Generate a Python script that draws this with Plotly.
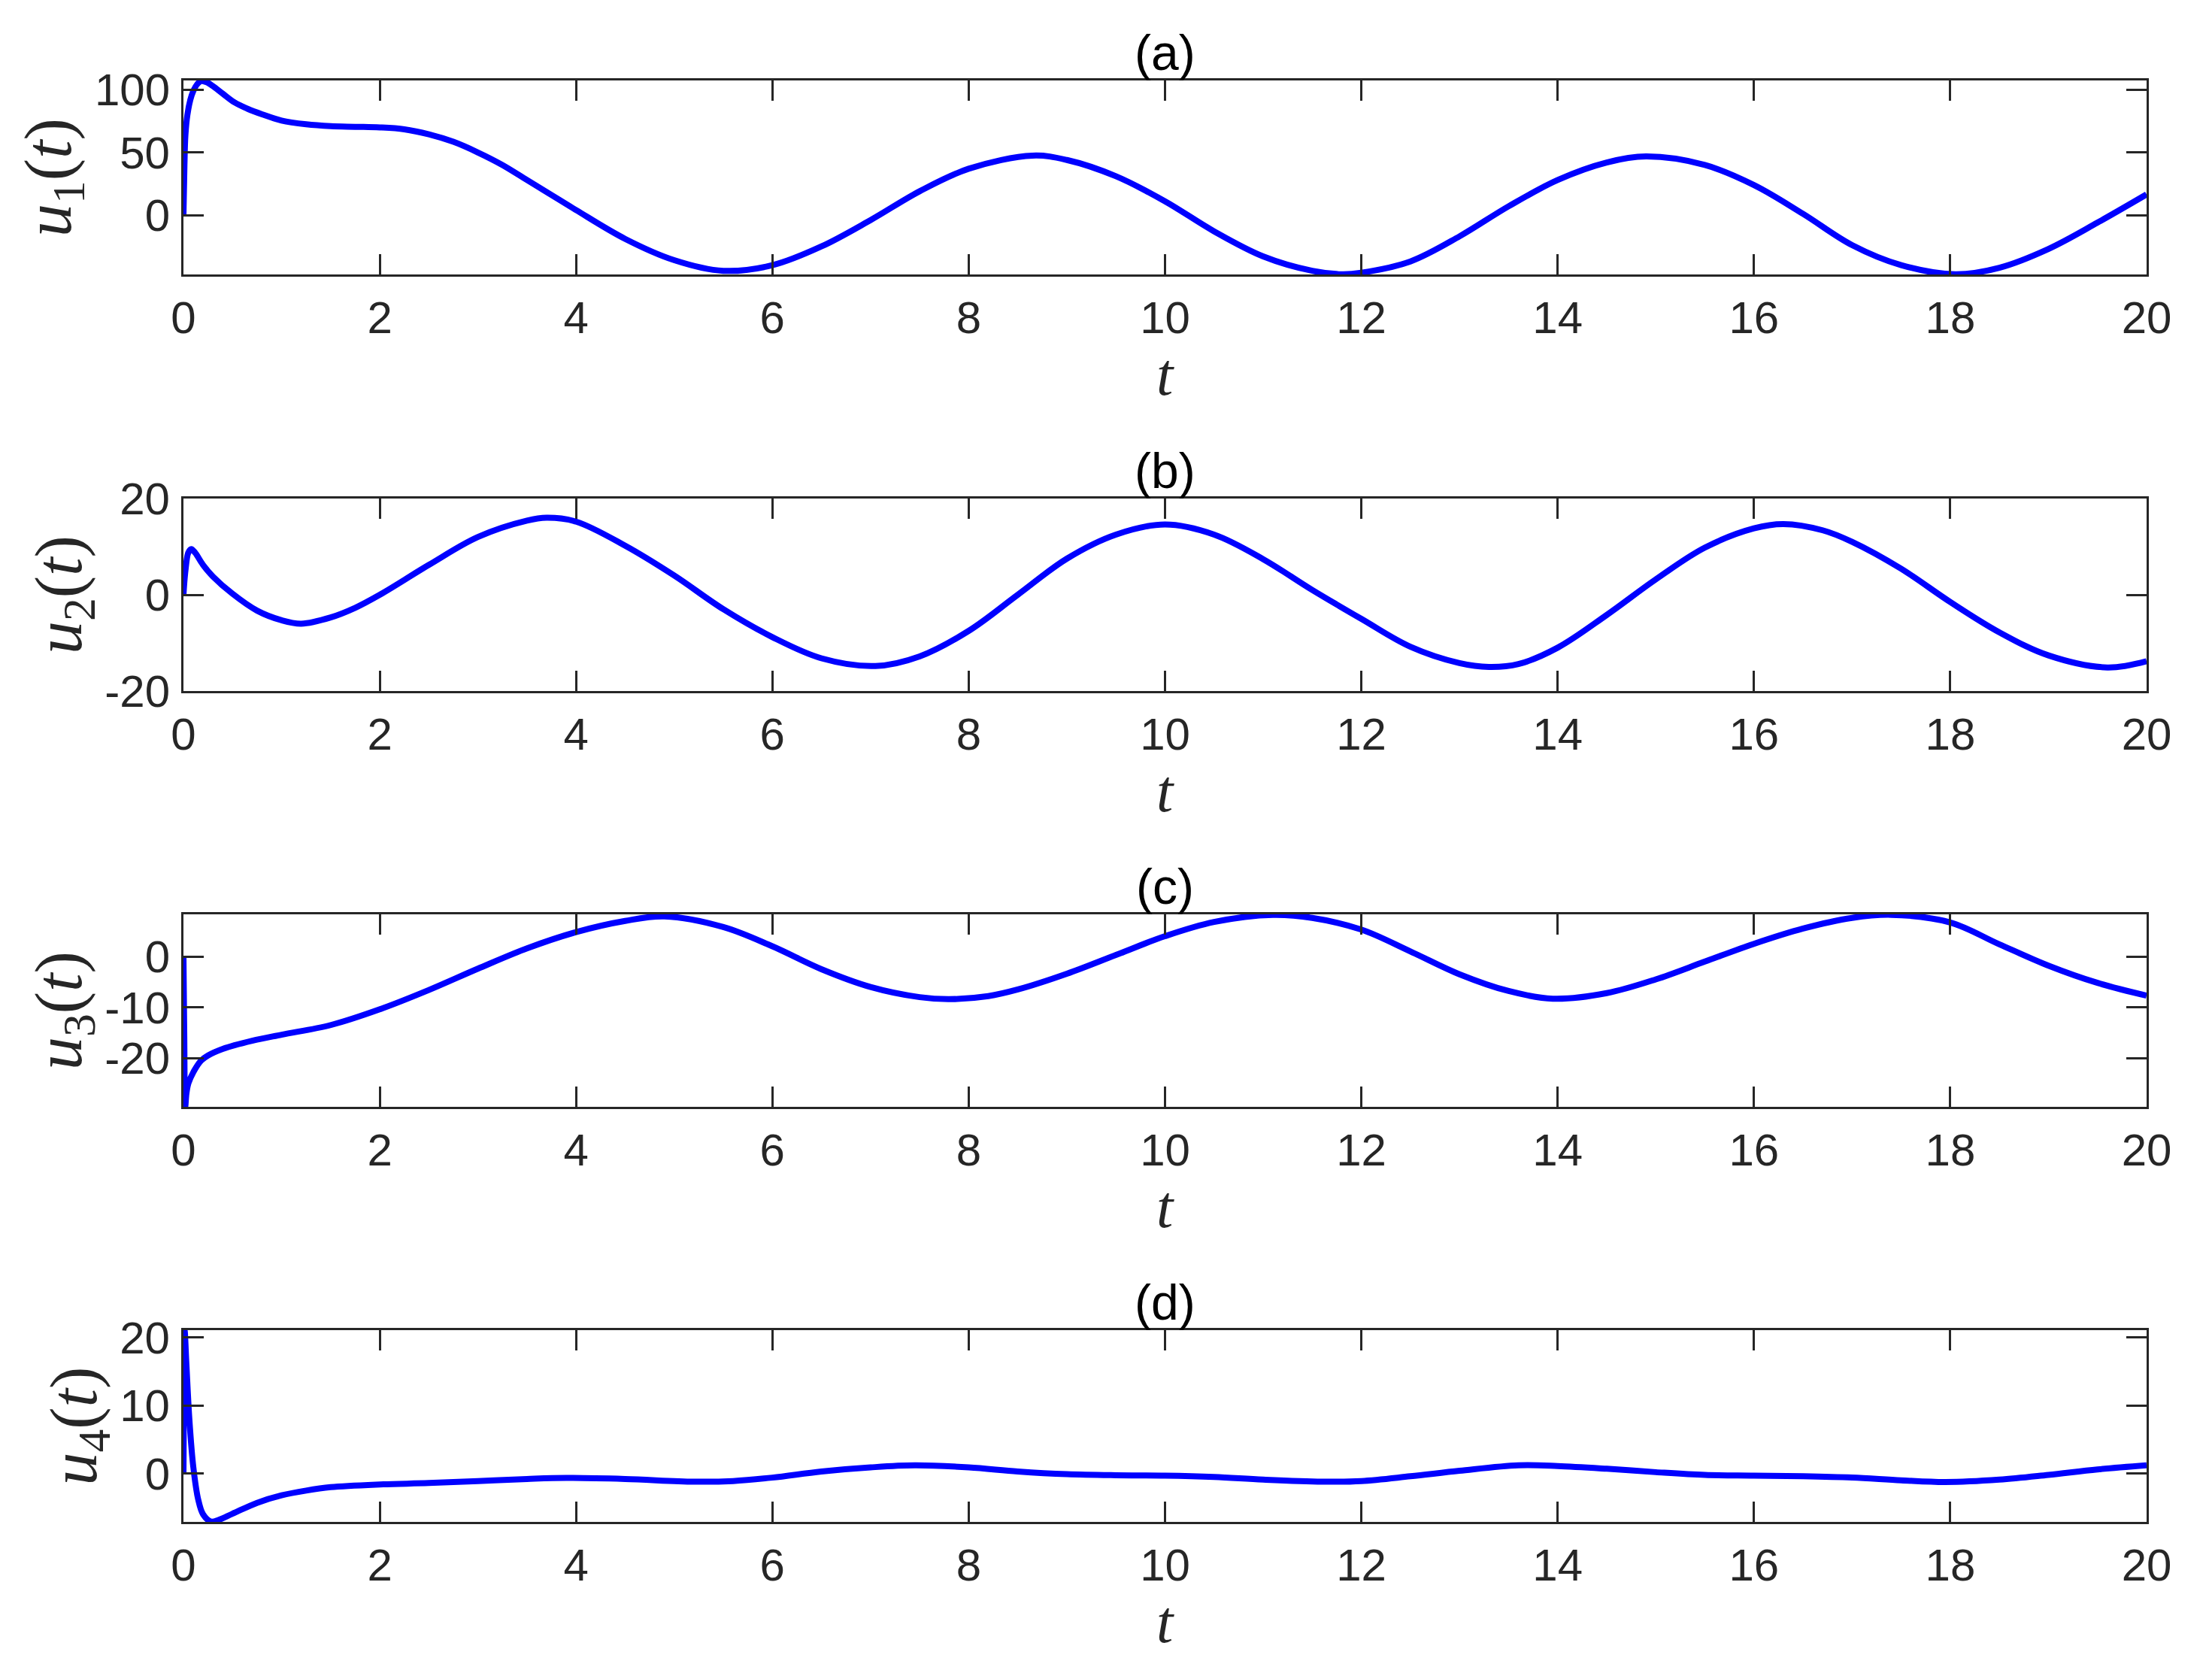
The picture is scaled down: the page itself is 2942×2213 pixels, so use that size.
import plotly.graph_objects as go

# ---------------- data ----------------
t1 = [0, 0.01, 0.02, 0.04, 0.07, 0.1, 0.14, 0.18, 0.24, 0.3, 0.4, 0.52, 0.65, 0.8,
      1.0, 1.25, 1.5, 1.75, 2.0, 2.25, 2.5, 2.75, 3.0, 3.25, 3.5, 3.75, 4.0, 4.5,
      5.0, 5.5, 6.0, 6.5, 7.0, 7.5, 8.0, 8.65, 9.0, 9.5, 10.0, 10.5, 11.0, 11.5,
      11.8, 12.0, 12.5, 13.0, 13.5, 14.0, 14.5, 14.9, 15.5, 16.0, 16.5, 17.0, 17.5,
      18.05, 18.5, 19.0, 19.5, 20.0]
u1 = [0, 40, 64, 80, 92, 99, 104.5, 107, 106, 103, 97, 90, 85, 80.5,
      75.5, 72.5, 71, 70.5, 70, 68.5, 64.5, 58.5, 50, 40, 28, 16, 4, -19,
      -36, -44.5, -40, -25, -4, 19, 37, 47.5, 44, 31, 11, -13, -33, -44.5,
      -47.2, -46, -37, -17, 7, 28, 42, 46.8, 40, 24, 1, -24, -40,
      -47.2, -42, -27, -6, 16.5]

t2 = [0, 0.02, 0.05, 0.08, 0.12, 0.2, 0.3, 0.5, 0.75, 1.0, 1.2, 1.5, 1.75, 2.0,
      2.5, 3.0, 3.5, 3.7, 4.0, 4.5, 5.0, 5.5, 6.0, 6.5, 7.05, 7.5, 8.0, 8.5, 9.0,
      9.5, 10.0, 10.5, 11.0, 11.5, 12.0, 12.5, 13.0, 13.3, 13.6, 14.0, 14.5, 15.0,
      15.5, 16.0, 16.3, 16.7, 17.0, 17.5, 18.0, 18.5, 19.0, 19.6, 20.0]
u2 = [0, 5, 8.8, 9.5, 8.7, 6.2, 3.8, 0.2, -3.3, -5.3, -6.0, -4.7, -2.7, 0,
      6.2, 12.0, 15.4, 16.0, 15.2, 10.2, 4.0, -3.0, -8.8, -13.2, -14.8, -12.8, -7.5, 0, 7.5,
      12.5, 14.6, 12.5, 7.4, 1.0, -5.0, -10.8, -14.2, -15.0, -14.4, -11.0, -4.2, 3.2,
      9.8, 13.8, 14.7, 13.4, 11.0, 5.4, -1.5, -7.8, -12.6, -15.1, -13.8]

t3 = [0, 0.008, 0.018, 0.03, 0.05, 0.1, 0.18, 0.25, 0.4, 0.7, 1.0, 1.5, 2.0, 2.5,
      3.0, 3.5, 4.0, 4.5, 4.9, 5.5, 6.0, 6.5, 7.0, 7.5, 7.8, 8.2, 8.5, 9.0, 9.5,
      10.0, 10.5, 11.1, 11.5, 12.0, 12.5, 13.0, 13.5, 13.95, 14.5, 15.0, 15.5, 16.0,
      16.5, 17.0, 17.4, 18.0, 18.5, 19.0, 19.5, 20.0]
u3 = [0, -15, -29.6, -27, -25, -22.8, -20.5, -19.5, -18.2, -16.6, -15.4, -13.5, -10.4, -6.6,
      -2.4, 1.6, 4.8, 7.0, 7.9, 5.8, 2.0, -2.5, -6.0, -8.0, -8.4, -7.8, -6.5, -3.4, 0.3,
      4.0, 6.8, 8.2, 7.6, 5.3, 1.0, -3.5, -6.8, -8.3, -7.2, -4.5, -1.0, 2.5,
      5.5, 7.6, 8.2, 6.7, 2.4, -1.8, -5.2, -7.7]

t4 = [0, 0.006, 0.012, 0.03, 0.06, 0.1, 0.15, 0.2, 0.28, 0.36, 0.5, 0.75, 1.0, 1.25,
      1.5, 2.0, 2.5, 3.0, 3.5, 3.9, 4.5, 5.2, 5.6, 6.0, 6.5, 7.0, 7.45, 8.0, 8.5,
      9.0, 9.5, 10.0, 10.5, 11.0, 11.6, 12.0, 12.5, 13.0, 13.6, 14.0, 14.5, 15.0,
      15.5, 16.0, 16.5, 17.0, 17.5, 17.95, 18.5, 19.0, 19.5, 20.0]
u4 = [0, 14, 21.0, 16, 8, 1, -3.8, -6.0, -7.05, -6.8, -5.9, -4.3, -3.2, -2.5,
      -2.0, -1.6, -1.4, -1.1, -0.8, -0.65, -0.8, -1.2, -1.1, -0.6, 0.3, 0.9, 1.2, 0.9, 0.3,
      -0.1, -0.25, -0.3, -0.5, -0.9, -1.2, -1.1, -0.4, 0.4, 1.2, 1.1, 0.7, 0.2,
      -0.2, -0.3, -0.4, -0.6, -1.0, -1.25, -0.9, -0.2, 0.6, 1.2]

x_ticks = [0, 2, 4, 6, 8, 10, 12, 14, 16, 18, 20]
y_ticks = [[0, 50, 100], [-20, 0, 20], [-20, -10, 0], [0, 10, 20]]
y_ticktext = [["0", "50", "100"], ["-20", "0", "20"], ["-20", "-10", "0"], ["0", "10", "20"]]
y_ranges = [[-47.4, 107.5], [-20, 20], [-29.6, 8.3], [-7.1, 21.05]]
titles = ["(a)", "(b)", "(c)", "(d)"]
y_labels = ["<i>u</i><sub>1</sub>(<i>t</i>)", "<i>u</i><sub>2</sub>(<i>t</i>)",
            "<i>u</i><sub>3</sub>(<i>t</i>)", "<i>u</i><sub>4</sub>(<i>t</i>)"]
x_label = "<i>t</i>"

T = [t1, t2, t3, t4]
U = [u1, u2, u3, u4]

# ---------------- layout geometry (screen pixels) ----------------
W, H = 2942, 2213
OX, OY = 8, 8                 # default page body margin
FW, FH = W - 2 * OX, H - 2 * OY


def fx(px):
    return (px - OX) / FW


def fy(py):
    return 1 - (py - OY) / FH


X0, X1 = 244, 2855
tops = [107, 663, 1216, 1769]
bots = [365, 919, 1472, 2024]
ylab_x = [70, 84, 84, 104]

AX = "#262626"
tick_font = dict(family="Liberation Sans, Arial, sans-serif", size=60, color=AX)
ylab_font = dict(family="Liberation Serif, Times New Roman, serif", size=88, color=AX)
xlab_font = dict(family="Liberation Serif, Times New Roman, serif", size=80, color=AX)

fig = go.Figure()
annotations = []
for i in range(4):
    xa = "x" if i == 0 else f"x{i+1}"
    ya = "y" if i == 0 else f"y{i+1}"
    fig.add_trace(go.Scatter(x=T[i], y=U[i], mode="lines",
                             line=dict(color="#0000FF", width=8, shape="spline", smoothing=1),
                             xaxis=xa, yaxis=ya, showlegend=False, hoverinfo="skip"))
    xkey = "xaxis" if i == 0 else f"xaxis{i+1}"
    ykey = "yaxis" if i == 0 else f"yaxis{i+1}"
    common = dict(showline=True, linecolor=AX, linewidth=3, mirror="ticks",
                  ticks="inside", ticklen=27, tickwidth=3, tickcolor=AX,
                  showgrid=False, zeroline=False, tickfont=tick_font, automargin=False)
    fig.update_layout({
        xkey: dict(domain=[fx(X0), fx(X1)], range=[0, 20], tickvals=x_ticks,
                   ticktext=[str(v) for v in x_ticks],
                   anchor=ya, ticklabelstandoff=3, **common),
        ykey: dict(domain=[fy(bots[i]), fy(tops[i])], range=y_ranges[i],
                   tickvals=y_ticks[i], ticktext=y_ticktext[i], anchor=xa,
                   ticklabelstandoff=3, **common),
    })
    xc = fx((X0 + X1) / 2)
    annotations.append(dict(text=titles[i], x=xc, y=fy(tops[i] - 37),
                            xref="paper", yref="paper", showarrow=False,
                            xanchor="center", yanchor="middle",
                            font=dict(family="Liberation Sans, Arial, sans-serif", size=66, color="#000000")))
    annotations.append(dict(text=x_label, x=xc, y=fy(bots[i] + 133),
                            xref="paper", yref="paper", showarrow=False,
                            xanchor="center", yanchor="middle", font=xlab_font))
    annotations.append(dict(text=y_labels[i], x=fx(ylab_x[i]),
                            y=fy((tops[i] + bots[i]) / 2),
                            xref="paper", yref="paper", showarrow=False, textangle=-90,
                            xanchor="center", yanchor="middle", font=ylab_font))

fig.update_layout(width=FW, height=FH, margin=dict(l=0, r=0, t=0, b=0),
                  paper_bgcolor="white", plot_bgcolor="white",
                  annotations=annotations, showlegend=False)

fig.write_html("out.html")
